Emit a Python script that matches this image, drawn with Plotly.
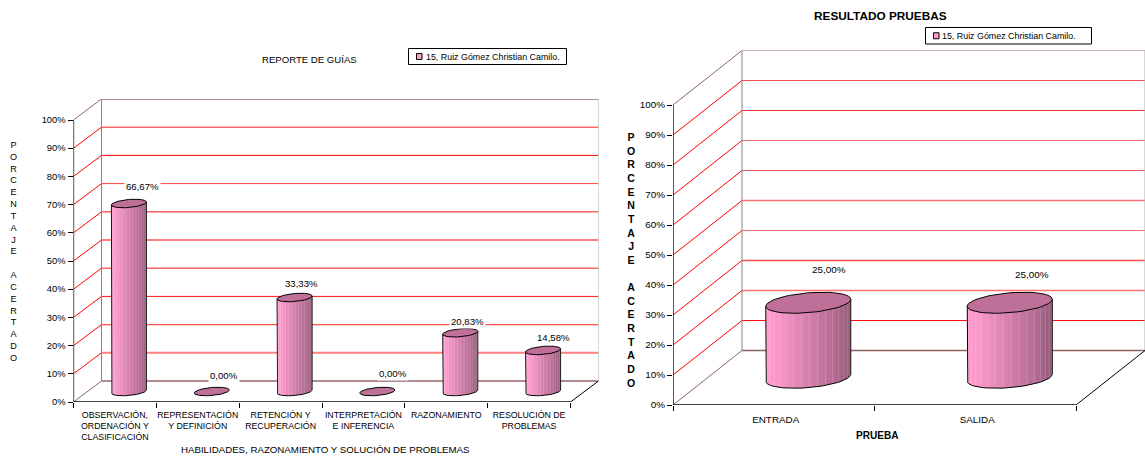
import numpy as np
import plotly.graph_objects as go

W, H = 1145, 458

# ---- data ----
left_categories = ["OBSERVACIÓN,<br>ORDENACIÓN Y<br>CLASIFICACIÓN", "REPRESENTACIÓN<br>Y DEFINICIÓN",
                   "RETENCIÓN Y<br>RECUPERACIÓN", "INTERPRETACIÓN<br>E INFERENCIA",
                   "RAZONAMIENTO", "RESOLUCIÓN DE<br>PROBLEMAS"]
left_values = [66.67, 0.0, 33.33, 0.0, 20.83, 14.58]
left_labels = ["66,67%", "0,00%", "33,33%", "0,00%", "20,83%", "14,58%"]
left_label_shift = [(13.5, 16.5), (12, 16), (7, 14.5), (16, 18), (7.4, 11), (10.7, 12.7)]

right_categories = ["ENTRADA", "SALIDA"]
right_values = [25.0, 25.0]
right_labels = ["25,00%", "25,00%"]
right_label_shift = [(21, 33), (22.7, 28)]

pct_ticks = [0, 10, 20, 30, 40, 50, 60, 70, 80, 90, 100]
pct_text = ["0%", "10%", "20%", "30%", "40%", "50%", "60%", "70%", "80%", "90%", "100%"]

series_name = "15, Ruiz Gómez Christian Camilo."
left_title = "REPORTE DE GUÍAS"
right_title = "RESULTADO PRUEBAS"
left_xtitle = "HABILIDADES, RAZONAMIENTO Y SOLUCIÓN DE PROBLEMAS"
right_xtitle = "PRUEBA"
ytitle_letters = list("PORCENTAJE") + [" "] + list("ACERTADO")

FONT = "Liberation Sans"
RED = "#ff0000"
BROWN = "#8f6464"
GREY = "#868686"
PINK_SCALE = [[0, "#ff9ccf"], [0.12, "#fb98ca"], [0.5, "#d480ab"], [0.8, "#b56c92"], [1, "#925a78"]]
TOP_FILL = "#bf7099"

# back-wall gridline looks, one per tick from 0% to 100%
left_wall = [(BROWN, 1.6), ("#ff8080", 2), ("#ff5050", 1.4), ("#ff1010", 1), ("#ff6868", 1.4), ("#ff8080", 2),
             ("#ff6060", 1.6), ("#ff4040", 1), ("#f00000", 1), ("#ff2020", 1), (BROWN, 1.4)]
right_wall = [(BROWN, 1.4), ("#ff1010", 1), ("#ff7070", 1.7), ("#ff4a4a", 1.5), ("#ff6a6a", 1), ("#ff7070", 1.7),
              ("#f06060", 1), ("#f07070", 1), ("#e83030", 1), ("#f05050", 1), (BROWN, 1.2)]

fig = go.Figure()
annotations = []


def px(x):
    return x / W


def py(y):
    return 1 - y / H


def panel(idx, x0, x1, y0, y100, dx, dy, cats, vals, labels, shifts, wall,
          half_w, half_h, tilt, tick_size, cat_size, label_size, standoff, labelshift):
    xa, ya = ("x", "y") if idx == 1 else ("x2", "y2")
    n = len(cats)
    ux = (x1 - x0) / n          # pixels per category
    uy = (y0 - y100) / 100      # pixels per percent
    ddx, ddy = dx / ux, -dy / uy
    xmin, xmax = -0.5, n - 0.5

    def add(xs, ys, color, width=1, **kw):
        fig.add_trace(go.Scatter(x=xs, y=ys, mode="lines", xaxis=xa, yaxis=ya, cliponaxis=False,
                                 hoverinfo="skip", showlegend=False,
                                 line=dict(color=color, width=width, simplify=False), **kw))

    # walls and floor
    for v, (c, w) in zip(pct_ticks, wall):
        add([xmin, xmin + ddx], [v, v + ddy], BROWN if v in (0, 100) else RED, 1)
        add([xmin + ddx, xmax + ddx], [v + ddy, v + ddy], c, w)
    add([xmin + ddx, xmin + ddx], [ddy, 100 + ddy], GREY)
    add([xmax + ddx, xmax + ddx], [ddy, 100 + ddy], "#b0b0b0")
    add([xmax, xmax + ddx], [0, ddy], "#000000")
    # front axes
    add([xmin, xmin], [0, 100], "#000000", 1.3)
    add([xmin, xmax], [0, 0], "#000000", 1.3)

    # cylinders: drawn at mid depth, from each value
    a, b, k = half_w / ux, half_h / uy, tilt / uy
    for i, v in enumerate(vals):
        cx = i + ddx / 2
        base = ddy / 2
        top = base + v
        if v > 0:
            t = np.linspace(np.pi, 2 * np.pi, 40)
            bx = cx + a * np.cos(t)
            by = base + k * np.cos(t) + b * np.sin(t)
            xs = np.r_[cx - a, bx, cx + a, cx - a]
            ys = np.r_[top - k, by, top + k, top - k]
            fig.add_trace(go.Scatter(
                x=xs, y=ys, mode="lines", fill="toself", xaxis=xa, yaxis=ya, cliponaxis=False,
                hoverinfo="skip", showlegend=False, line=dict(color="#000000", width=1),
                fillgradient=dict(type="horizontal", colorscale=PINK_SCALE)))
            # faint facets of the cylinder wall
            th = np.linspace(np.pi * 0.92, np.pi * 0.06, 15)
            sx, sy = [], []
            for q in th:
                sx += [cx + a * np.cos(q), cx + a * np.cos(q), None]
                sy += [top + k * np.cos(q) - b * np.sin(q) * 0.9, base + k * np.cos(q) - b * np.sin(q) * 0.9, None]
            add(sx, sy, "rgba(255,255,255,0.16)", 1)
        t = np.linspace(0, 2 * np.pi, 60)
        fig.add_trace(go.Scatter(
            x=cx + a * np.cos(t), y=top + k * np.cos(t) + b * np.sin(t), mode="lines", fill="toself",
            fillcolor=TOP_FILL, xaxis=xa, yaxis=ya, cliponaxis=False, hoverinfo="skip",
            showlegend=False, line=dict(color="#000000", width=1)))
        annotations.append(dict(
            x=cx, y=top, xref=xa, yref=ya, text=labels[i], showarrow=False,
            xshift=shifts[i][0], yshift=shifts[i][1], bgcolor="#ffffff", borderpad=1,
            xanchor="center", yanchor="middle",
            font=dict(family=FONT, size=label_size, color="#000000")))

    layout_x = dict(
        domain=[px(x0), px(x1 + dx)], range=[xmin, xmax + ddx], showgrid=False, zeroline=False,
        automargin=False,
        showline=False, tickmode="array", tickvals=list(range(n)), ticktext=cats,
        ticks="outside", ticklen=5, tickcolor="rgba(0,0,0,0)", ticklabelstandoff=standoff,
        ticklabelshift=labelshift,
        tickfont=dict(family=FONT, size=cat_size, color="#000000"),
        minor=dict(tickmode="array", tickvals=[j - 0.5 for j in range(n + 1)], ticks="outside",
                   ticklen=5, tickcolor="#000000", tickwidth=1, showgrid=False))
    layout_y = dict(
        domain=[py(y0), py(y100 + dy)], range=[0, 100 + ddy], showgrid=False, zeroline=False,
        automargin=False,
        showline=False, tickmode="array", tickvals=pct_ticks, ticktext=pct_text,
        ticks="outside", ticklen=5, tickcolor="#000000", tickwidth=1,
        tickfont=dict(family=FONT, size=tick_size, color="#000000"))
    return layout_x, layout_y


lx, ly = panel(1, 73.5, 570.5, 402, 120, 28, -21, left_categories, left_values, left_labels,
               left_label_shift, left_wall, 17.5, 4, 1.5, 9.4, 8.8, 9.6, -1, 0)
rx, ry = panel(2, 673, 1076, 405, 105, 69, -54.5, right_categories, right_values, right_labels,
               right_label_shift, right_wall, 42.5, 9.9, 3.5, 9.9, 9.9, 9.9, 0, 2)
ry = {**ry, "anchor": "x2"}
rx = {**rx, "anchor": "y2"}


def text(x, y, s, size, bold=False):
    annotations.append(dict(
        x=px(x), y=py(y), xref="paper", yref="paper", showarrow=False,
        xanchor="center", yanchor="middle",
        text=f"<b>{s}</b>" if bold else s,
        font=dict(family=FONT, size=size, color="#000000")))


text(309.5, 59, left_title, 9.6)
text(880, 16, right_title, 11.8, True)
text(325, 449.5, left_xtitle, 9.7)
text(877.5, 435.5, right_xtitle, 10.1, True)
text(14, 252, "<br>".join(ytitle_letters), 9.1)
text(631, 260, "<br>".join(ytitle_letters), 10.5, True)

# legend boxes
shapes = []
for (bx0, by0, bx1, by1) in [(408.5, 48.5, 566.5, 64.5), (925.5, 27.5, 1091.5, 44)]:
    shapes.append(dict(type="rect", xref="paper", yref="paper", x0=px(bx0), x1=px(bx1), y0=py(by0), y1=py(by1),
                       line=dict(color="#000000", width=1), fillcolor="#ffffff", layer="below"))
    cy = (by0 + by1) / 2
    shapes.append(dict(type="rect", xref="paper", yref="paper", x0=px(bx0 + 8), x1=px(bx0 + 13.5),
                       y0=py(cy - 3), y1=py(cy + 3), line=dict(color="#000000", width=1),
                       fillcolor="#ff99cc", layer="above"))
    annotations.append(dict(x=px(bx0 + 15), y=py(cy), xref="paper", yref="paper", xanchor="left",
                            yanchor="middle", showarrow=False,
                            text=series_name, font=dict(family=FONT, size=8.9, color="#000000")))

fig.update_layout(
    template="none",
    width=W, height=H, margin=dict(l=0, r=0, t=0, b=0, pad=0), paper_bgcolor="#ffffff", plot_bgcolor="#ffffff",
    showlegend=False, xaxis=lx, yaxis=ly, xaxis2=rx, yaxis2=ry,
    annotations=annotations, shapes=shapes)

fig.write_html("out.html", config={"displayModeBar": False},
               post_script="document.body.style.margin='0';document.body.style.overflow='hidden';")
